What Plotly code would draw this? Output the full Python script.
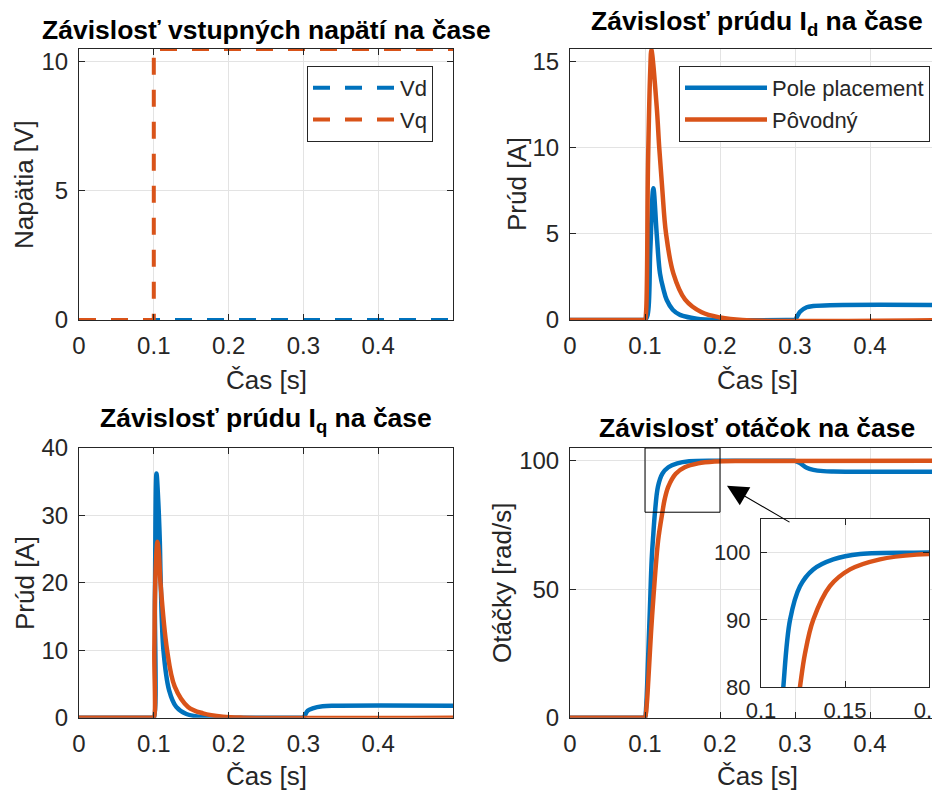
import plotly.graph_objects as go

# ---------------- data ----------------
# Input voltages
t_v = [0.0, 0.5]
vd = [0.0, 0.0]
t_vq = [0.0, 0.1, 0.1, 0.5]
vq = [0.0, 0.0, 10.5, 10.5]

# Current Id
t_id_pp = [0, 0.0985, 0.1, 0.1035, 0.107, 0.1111, 0.1156, 0.12, 0.1245, 0.129, 0.137, 0.1467, 0.169, 0.2,
           0.2985, 0.3, 0.3067, 0.3156, 0.3244, 0.3467, 0.5]
id_pp = [0, 0, 0, 0.3, 4.0, 7.65, 5.0, 2.7, 1.8, 1.16, 0.6, 0.3, 0.08, 0,
         0, 0, 0.48, 0.74, 0.81, 0.86, 0.87]
t_id_orig = [0, 0.0985, 0.1, 0.1015, 0.104, 0.107, 0.1085, 0.1156, 0.119, 0.1231, 0.128, 0.1378, 0.1533,
             0.1756, 0.2, 0.23, 0.5]
id_orig = [0, 0, 0, 0.5, 9.0, 14.5, 15.7, 12.4, 10.0, 7.56, 5.04, 2.71, 1.2,
           0.45, 0.15, 0.0, 0.0]

# Current Iq
t_iq_pp = [0, 0.0985, 0.1, 0.1015, 0.1036, 0.106, 0.108, 0.1093, 0.1129, 0.1204, 0.130, 0.1436, 0.1707,
           0.2, 0.2985, 0.3, 0.3058, 0.3124, 0.3257, 0.3435, 0.5]
iq_pp = [0, 0, 0, 18, 36.2, 32, 26.3, 19.9, 10.0, 4.1, 1.6, 0.55, 0.05,
         0, 0, 0, 1.04, 1.39, 1.69, 1.77, 1.78]
t_iq_orig = [0, 0.0985, 0.1, 0.1007, 0.1025, 0.1049, 0.107, 0.109, 0.1178, 0.128, 0.1458, 0.1658, 0.1924,
             0.22, 0.5]
iq_orig = [0, 0, 0, 10, 22, 26.1, 24, 19.9, 10.0, 4.6, 1.6, 0.65, 0.15, 0, 0]

# Speed
t_w_pp = [0, 0.0985, 0.1, 0.1015, 0.104, 0.1065, 0.109, 0.1111, 0.1133, 0.1173, 0.1232, 0.1311, 0.143,
          0.159, 0.2, 0.2985, 0.3, 0.3067, 0.3156, 0.3244, 0.3378, 0.351, 0.5]
w_pp = [0, 0, 0, 4, 22, 42, 62, 71.5, 80, 90, 95, 97.5, 99,
        99.8, 100, 100, 100, 99.1, 97.3, 96.5, 96.0, 95.85, 95.8]
t_w_orig = [0, 0.0985, 0.1, 0.102, 0.1045, 0.108, 0.1115, 0.1175, 0.1232, 0.1262, 0.1311, 0.141, 0.153,
            0.1708, 0.1927, 0.23, 0.5]
w_orig = [0, 0, 0, 4, 15, 33, 48, 69, 80, 85, 90, 95, 97.5,
          99, 99.7, 99.95, 100]

x_ticks = [0, 0.1, 0.2, 0.3, 0.4]
x_tick_text = ["0", "0.1", "0.2", "0.3", "0.4"]

BLUE = "#0072BD"
ORANGE = "#D95319"
AX = "#262626"
GRID = "#e3e3e3"
FONT = "Liberation Sans, Arial, Helvetica, sans-serif"

# the page body adds an 8px offset; the figure is sized to fill the rest of the window
OFF = 8
W, H = 940 - OFF, 792 - OFF

def px(x):
    return (x - OFF) / W

def py(y):
    return 1 - (y - OFF) / H

fig = go.Figure()

def curve(x, y, name, color, xa, ya, **kw):
    return go.Scatter(x=x, y=y, mode="lines", name=name, xaxis=xa, yaxis=ya,
                      line=dict(color=color, width=4.5, shape="spline", smoothing=1), **kw)

# Top-left: voltages
fig.add_trace(go.Scatter(x=t_v, y=vd, mode="lines", name="Vd", xaxis="x", yaxis="y",
                         line=dict(color=BLUE, width=4, dash="17px,15px"), legend="legend"))
fig.add_trace(go.Scatter(x=t_vq, y=vq, mode="lines", name="Vq", xaxis="x", yaxis="y",
                         line=dict(color=ORANGE, width=4, dash="17px,15px"), legend="legend"))
# Top-right: Id
fig.add_trace(curve(t_id_pp, id_pp, "Pole placement", BLUE, "x2", "y2", legend="legend2"))
fig.add_trace(curve(t_id_orig, id_orig, "Pôvodný", ORANGE, "x2", "y2", legend="legend2"))
# Bottom-left: Iq
fig.add_trace(curve(t_iq_pp, iq_pp, "Pole placement", BLUE, "x3", "y3", showlegend=False))
fig.add_trace(curve(t_iq_orig, iq_orig, "Pôvodný", ORANGE, "x3", "y3", showlegend=False))
# Bottom-right: speed
fig.add_trace(curve(t_w_pp, w_pp, "Pole placement", BLUE, "x4", "y4", showlegend=False))
fig.add_trace(curve(t_w_orig, w_orig, "Pôvodný", ORANGE, "x4", "y4", showlegend=False))
# Inset
fig.add_trace(curve(t_w_pp, w_pp, "Pole placement", BLUE, "x5", "y5", showlegend=False))
fig.add_trace(curve(t_w_orig, w_orig, "Pôvodný", ORANGE, "x5", "y5", showlegend=False))

tickfont = dict(family=FONT, size=24, color=AX)

def xax(domain, rng, anchor, mirror="ticks", tickvals=x_ticks, ticktext=x_tick_text, font=tickfont):
    return dict(domain=domain, range=rng, anchor=anchor, showline=True, linecolor=AX, linewidth=1,
                mirror=mirror, ticks="inside", ticklen=6, tickcolor=AX, tickwidth=1,
                tickvals=tickvals, ticktext=ticktext, tickfont=font, showgrid=True,
                gridcolor=GRID, gridwidth=1, zeroline=False, fixedrange=True,
                ticklabelstandoff=4, automargin=False, ticklabeloverflow="allow")

def yax(domain, rng, anchor, tickvals, mirror="ticks", font=tickfont):
    return dict(domain=domain, range=rng, anchor=anchor, showline=True, linecolor=AX, linewidth=1,
                mirror=mirror, ticks="inside", ticklen=6, tickcolor=AX, tickwidth=1,
                tickvals=tickvals, tickfont=font, showgrid=True, gridcolor=GRID, gridwidth=1,
                zeroline=False, fixedrange=True, ticklabelstandoff=5, automargin=False,
                ticklabeloverflow="allow")

xl = [px(79), px(453)]
xr = [px(570), 1.0]
yt = [py(320), py(49)]
yb = [py(717.7), py(448)]
x_right_max = (940 - 570) / 750.0

inset_font = dict(family=FONT, size=22, color=AX)
legend_font = dict(family=FONT, size=22, color=AX)

fig.update_layout(
    width=W, height=H,
    margin=dict(l=0, r=0, t=0, b=0, autoexpand=False),
    paper_bgcolor="white", plot_bgcolor="white",
    font=dict(family=FONT, color=AX),
    xaxis=xax(xl, [0, 0.5], "y"),
    yaxis=yax(yt, [0, 10.5], "x", [0, 5, 10]),
    xaxis2=xax(xr, [0, x_right_max], "y2", mirror=True),
    yaxis2=yax(yt, [0, 15.75], "x2", [0, 5, 10, 15], mirror=False),
    xaxis3=xax(xl, [0, 0.5], "y3"),
    yaxis3=yax(yb, [0, 40], "x3", [0, 10, 20, 30, 40]),
    xaxis4=xax(xr, [0, x_right_max], "y4", mirror=True),
    yaxis4=yax(yb, [0, 105], "x4", [0, 50, 100], mirror=False),
    xaxis5=xax([px(761), px(929)], [0.1, 0.2], "y5", tickvals=[0.1, 0.15, 0.2],
               ticktext=["0.1", "0.15", "0.2"], font=inset_font),
    yaxis5=yax([py(687), py(519)], [80, 105], "x5", [80, 90, 100], font=inset_font),
    legend=dict(x=px(307), y=py(66), xanchor="left", yanchor="top", bgcolor="white",
                bordercolor=AX, borderwidth=1, font=legend_font, tracegroupgap=0, itemwidth=82),
    legend2=dict(x=px(679), y=py(66), xanchor="left", yanchor="top", bgcolor="white",
                 bordercolor=AX, borderwidth=1, font=legend_font, tracegroupgap=0, itemwidth=82),
)

# Zoom rectangle and arrow in the speed plot
fig.add_shape(type="rect", xref="x4", yref="y4", x0=0.1, x1=0.2, y0=80, y1=105,
              line=dict(color="black", width=1), fillcolor="rgba(0,0,0,0)")
fig.add_annotation(x=0.2093, y=90.3, xref="x4", yref="y4", ax=0.2947, ay=75.8,
                   axref="x4", ayref="y4", text="", showarrow=True, arrowhead=2,
                   arrowsize=3.8, arrowwidth=1.1, arrowcolor="black")

# Titles
title_font = dict(family=FONT, size=26.5, color="black")
titles = [
    ("<b>Závislosť vstupných napätí na čase</b>", 266, 30),
    ("<b>Závislosť prúdu I<sub>d</sub> na čase</b>", 757, 23),
    ("<b>Závislosť prúdu I<sub>q</sub> na čase</b>", 266, 420),
    ("<b>Závislosť otáčok na čase</b>", 757, 428),
]
for txt, x, y in titles:
    fig.add_annotation(text=txt, x=px(x), y=py(y), xref="paper", yref="paper",
                       xanchor="center", yanchor="middle", showarrow=False, font=title_font)

# Axis titles
lab_font = dict(family=FONT, size=26, color=AX)
xlabels = [("Čas [s]", 266, 380), ("Čas [s]", 757, 380), ("Čas [s]", 266, 776), ("Čas [s]", 757, 776)]
for txt, x, y in xlabels:
    fig.add_annotation(text=txt, x=px(x), y=py(y), xref="paper", yref="paper",
                       xanchor="center", yanchor="middle", showarrow=False, font=lab_font)
ylabels = [("Napätia [V]", 24, 185), ("Prúd [A]", 517, 184), ("Prúd [A]", 25, 583),
           ("Otáčky [rad/s]", 502, 583)]
for txt, x, y in ylabels:
    fig.add_annotation(text=txt, x=px(x), y=py(y), xref="paper", yref="paper",
                       xanchor="center", yanchor="middle", showarrow=False, font=lab_font,
                       textangle=-90)

fig.write_html("out.html")
